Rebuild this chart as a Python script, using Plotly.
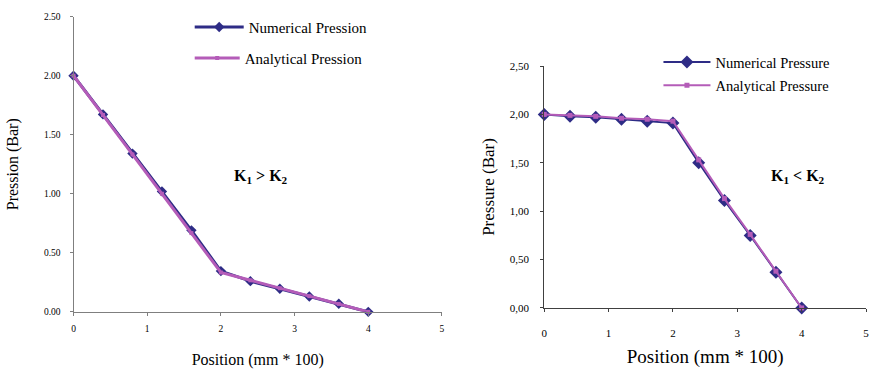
import plotly.graph_objects as go

# Positions along the sample (mm * 100)
position = [0.0, 0.4, 0.8, 1.2, 1.6, 2.0, 2.4, 2.8, 3.2, 3.6, 4.0]

# Case K1 > K2
num_pression_k1_gt = [2.00, 1.672, 1.34, 1.02, 0.69, 0.345, 0.26, 0.195, 0.13, 0.068, 0.00]
ana_pression_k1_gt = [2.00, 1.667, 1.333, 1.00, 0.667, 0.333, 0.267, 0.20, 0.133, 0.067, 0.00]

# Case K1 < K2
num_pressure_k1_lt = [2.00, 1.98, 1.97, 1.95, 1.93, 1.91, 1.50, 1.11, 0.75, 0.37, 0.00]
ana_pressure_k1_lt = [2.00, 1.99, 1.98, 1.96, 1.95, 1.93, 1.53, 1.13, 0.76, 0.38, 0.00]

x_ticks = [0, 1, 2, 3, 4, 5]
y_ticks = [0.0, 0.5, 1.0, 1.5, 2.0, 2.5]
y_ticktext_left = ["0.00", "0.50", "1.00", "1.50", "2.00", "2.50"]
y_ticktext_right = ["0,00", "0,50", "1,00", "1,50", "2,00", "2,50"]

NAVY = "#2E2C86"
PINK = "#B45CB8"
SERIF = "Liberation Serif, Times New Roman, serif"

W, H = 872, 373


def px_x(p):
    return p / W


def px_y(p):
    return 1 - p / H


def serif(size, **kw):
    return dict(size=size, family=SERIF, color="black", **kw)


fig = go.Figure()

fig.add_trace(go.Scatter(
    x=position, y=num_pression_k1_gt, name="Numerical Pression",
    mode="lines+markers", xaxis="x", yaxis="y", legend="legend", showlegend=True,
    line=dict(color=NAVY, width=3),
    marker=dict(symbol="diamond", size=8, color=NAVY),
    cliponaxis=False,
))
fig.add_trace(go.Scatter(
    x=position, y=ana_pression_k1_gt, name="Analytical Pression",
    mode="lines+markers", xaxis="x", yaxis="y", legend="legend2", showlegend=True,
    line=dict(color=PINK, width=3),
    marker=dict(symbol="square", size=4, color=PINK),
    cliponaxis=False,
))
fig.add_trace(go.Scatter(
    x=position, y=num_pressure_k1_lt, name="Numerical Pressure",
    mode="lines+markers", xaxis="x2", yaxis="y2", legend="legend3", showlegend=True,
    line=dict(color=NAVY, width=2),
    marker=dict(symbol="diamond", size=10, color=NAVY),
    cliponaxis=False,
))
fig.add_trace(go.Scatter(
    x=position, y=ana_pressure_k1_lt, name="Analytical Pressure",
    mode="lines+markers", xaxis="x2", yaxis="y2", legend="legend4", showlegend=True,
    line=dict(color=PINK, width=2),
    marker=dict(symbol="square", size=5, color=PINK),
    cliponaxis=False,
))

axis_common = dict(showgrid=False, zeroline=False, showline=True, ticks="outside",
                   fixedrange=True)

legend_common = dict(bgcolor="rgba(0,0,0,0)", borderwidth=0, xanchor="left",
                     yanchor="middle", visible=True)

fig.update_layout(
    width=W, height=H,
    margin=dict(l=0, r=0, t=0, b=0),
    paper_bgcolor="white", plot_bgcolor="white",
    showlegend=True,
    font=serif(12),
    xaxis=dict(**axis_common, domain=[px_x(71), px_x(442)], range=[0, 5],
               tickvals=x_ticks, ticktext=[str(v) for v in x_ticks],
               linecolor="#7f7f7f", tickcolor="#7f7f7f", ticklen=3,
               ticklabelstandoff=5, tickfont=serif(9.5),
               title=dict(text="Position (mm * 100)", font=serif(16), standoff=20),
               anchor="y"),
    yaxis=dict(**axis_common, domain=[px_y(316), px_y(11)], range=[0, 2.5],
               tickvals=y_ticks, ticktext=y_ticktext_left,
               linecolor="#7f7f7f", tickcolor="#7f7f7f", ticklen=3,
               ticklabelstandoff=7, tickfont=serif(9.5),
               title=dict(text="Pression (Bar)", font=serif(16), standoff=21),
               anchor="x"),
    xaxis2=dict(**axis_common, domain=[px_x(545), px_x(869)], range=[0, 5],
                tickvals=x_ticks, ticktext=[str(v) for v in x_ticks],
                linecolor="#404040", tickcolor="#404040", ticklen=3,
                ticklabelstandoff=12, tickfont=serif(11),
                title=dict(text="Position (mm * 100)", font=serif(19), standoff=11),
                anchor="y2"),
    yaxis2=dict(**axis_common, domain=[px_y(312), px_y(62)], range=[0, 2.5],
                tickvals=y_ticks, ticktext=y_ticktext_right,
                linecolor="#404040", tickcolor="#404040", ticklen=3,
                ticklabelstandoff=9, tickfont=serif(11),
                title=dict(text="Pressure (Bar)", font=serif(17), standoff=10),
                anchor="x2"),
    legend=dict(**legend_common, x=px_x(188), y=px_y(22), itemwidth=49,
                font=serif(15)),
    legend2=dict(**legend_common, x=px_x(188), y=px_y(54), itemwidth=45,
                 font=serif(15)),
    legend3=dict(**legend_common, x=px_x(660), y=px_y(58), itemwidth=47,
                 font=serif(14.5)),
    legend4=dict(**legend_common, x=px_x(660), y=px_y(82), itemwidth=47,
                 font=serif(14.5)),
    annotations=[
        dict(text="<b>K<sub>1</sub> > K<sub>2</sub></b>", x=px_x(260), y=px_y(176),
             xref="paper", yref="paper", xanchor="center", yanchor="middle",
             showarrow=False, font=serif(16)),
        dict(text="<b>K<sub>1</sub> < K<sub>2</sub></b>", x=px_x(801), y=px_y(176),
             xref="paper", yref="paper", xanchor="center", yanchor="middle",
             showarrow=False, font=serif(16)),
    ],
)

fig.write_html("out.html")
